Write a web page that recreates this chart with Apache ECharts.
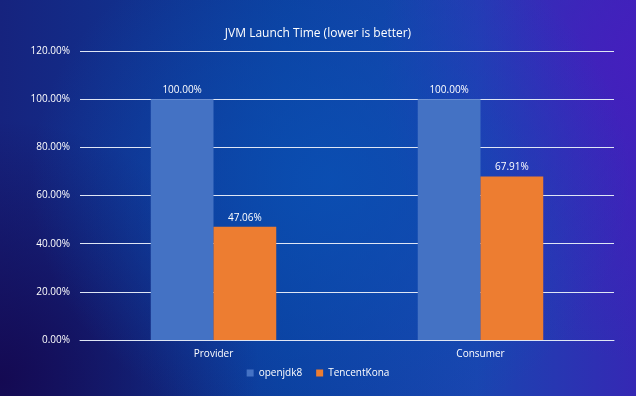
<!DOCTYPE html>
<html>
<head>
<meta charset="utf-8">
<script src="https://cdn.jsdelivr.net/npm/echarts@6/dist/echarts.min.js"></script>
<style>
    html, body { margin: 0; padding: 0; }
    body {
        width: 636px; height: 396px; overflow: hidden;
        background:
            radial-gradient(ellipse 300px 260px at 330px 180px, rgba(10, 80, 180, 0.85), rgba(10, 80, 180, 0) 100%),
            radial-gradient(ellipse 260px 300px at 640px 60px, rgba(70, 30, 190, 0.9), rgba(70, 30, 190, 0) 100%),
            radial-gradient(ellipse 260px 260px at 0px 380px, rgba(20, 8, 80, 0.95), rgba(20, 8, 80, 0) 100%),
            linear-gradient(90deg, #16237e 0%, #0c3f9e 45%, #1a45b0 75%, #3528b4 100%);
    }
    #main { width: 636px; height: 396px; }
</style>
</head>
<body>
<div id="main"></div>
<script>
    var categories = ['Provider', 'Consumer'];
    var openjdk8 = [100.00, 100.00];
    var tencentKona = [47.06, 67.91];
    var yTicks = [0, 20, 40, 60, 80, 100, 120];

    var pctLabel = function(p) {
        return p.value.toFixed(2) + '%';
    };

    var option = {
        backgroundColor: 'transparent',
        textStyle: { fontFamily: '"Open Sans", "Noto Sans", sans-serif' },
        title: {
            text: 'JVM Launch Time (lower is better)',
            left: 'center',
            top: 23,
            textStyle: { color: '#ffffff', fontSize: 12, fontWeight: 'normal' }
        },
        legend: {
            data: ['openjdk8', 'TencentKona'],
            bottom: 13,
            left: 'center',
            itemWidth: 7,
            itemHeight: 7,
            itemGap: 14,
            icon: 'rect',
            textStyle: { color: '#ffffff', fontSize: 10 }
        },
        grid: { left: 80, right: 22, top: 51, bottom: 56 },
        xAxis: {
            type: 'category',
            data: categories,
            axisLine: { lineStyle: { color: '#dfe6f5', width: 1 } },
            axisTick: { show: false },
            axisLabel: { color: '#ffffff', fontSize: 10, margin: 9 }
        },
        yAxis: {
            type: 'value',
            min: yTicks[0],
            max: yTicks[yTicks.length - 1],
            interval: yTicks[1] - yTicks[0],
            axisLine: { show: false },
            axisTick: { show: false },
            splitLine: { lineStyle: { color: '#dfe6f5', width: 1 } },
            axisLabel: {
                color: '#ffffff',
                fontSize: 10,
                margin: 10,
                formatter: function(v) { return v.toFixed(2) + '%'; }
            }
        },
        series: [{
            name: 'openjdk8',
            type: 'bar',
            data: openjdk8,
            barGap: '0%',
            barCategoryGap: '53%',
            itemStyle: { color: '#4472c4' },
            label: { show: true, position: 'top', color: '#ffffff', fontSize: 10, distance: 4, formatter: pctLabel }
        }, {
            name: 'TencentKona',
            type: 'bar',
            data: tencentKona,
            itemStyle: { color: '#ed7d31' },
            label: { show: true, position: 'top', color: '#ffffff', fontSize: 10, distance: 4, formatter: pctLabel }
        }]
    };

    var myChart = echarts.init(document.getElementById('main'));
    myChart.setOption(option);
</script>
</body>
</html>
